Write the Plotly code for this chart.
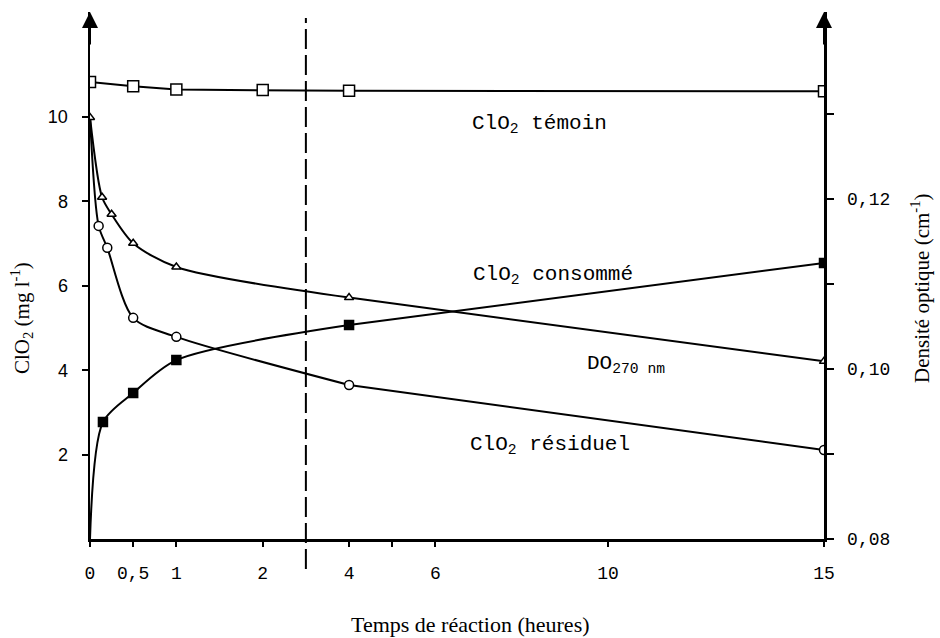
import plotly.graph_objects as go

# ---- data (hours, values) ----
temoin_t = [0, 0.5, 1, 2, 4, 15]
temoin = [10.83, 10.73, 10.65, 10.64, 10.62, 10.61]

residuel_t = [0, 0.1, 0.2, 0.5, 1, 4, 15]
residuel = [10.0, 7.42, 6.90, 5.24, 4.79, 3.65, 2.11]

consomme_t = [0, 0.15, 0.5, 1, 4, 15]
consomme = [0.0, 2.77, 3.46, 4.24, 5.07, 6.54]

do_t = [0, 0.14, 0.25, 0.5, 1, 4, 15]
do270 = [0.1296, 0.1202, 0.1182, 0.1148, 0.1120, 0.1084, 0.1009]

x_tick_hours = [0, 0.5, 1, 2, 4, 5, 6, 10, 15]
x_tick_text = ["0", "0,5", "1", "2", "4", "", "6", "10", "15"]
y_tick_vals = [2, 4, 6, 8, 10]
y2_tick_vals = [0.08, 0.09, 0.10, 0.11, 0.12, 0.13]
y2_tick_text = ["0,08", "", "0,10", "", "0,12", ""]

BREAK_HOUR = 2.5  # broken time axis: 2 units/h before the break, 1 unit/h after


def pos(h):
    return 2 * h if h <= BREAK_HOUR else h + 2


def P(ts):
    return [pos(t) for t in ts]


BLACK = "#000000"
fig = go.Figure()

line = dict(color=BLACK, width=2)


def add_series(ts, vs, symbol, size, fill, yaxis, split_idx=None, hide_first=False):
    xs = P(ts)
    if split_idx is None:
        fig.add_trace(go.Scatter(x=xs, y=vs, mode="lines", line=line, yaxis=yaxis,
                                 showlegend=False, hoverinfo="skip"))
    else:
        fig.add_trace(go.Scatter(x=xs[:split_idx + 1], y=vs[:split_idx + 1], mode="lines",
                                 line=dict(color=BLACK, width=2, shape="spline", smoothing=0.8),
                                 yaxis=yaxis, showlegend=False, hoverinfo="skip"))
        fig.add_trace(go.Scatter(x=xs[split_idx:], y=vs[split_idx:], mode="lines",
                                 line=line, yaxis=yaxis, showlegend=False, hoverinfo="skip"))
    sizes = [size] * len(xs)
    if hide_first:
        sizes[0] = 0
    fig.add_trace(go.Scatter(x=xs, y=vs, mode="markers", yaxis=yaxis, showlegend=False,
                             hoverinfo="skip",
                             marker=dict(symbol=symbol, size=sizes, color=fill, opacity=1,
                                         line=dict(color=BLACK, width=1.5))))


add_series(temoin_t, temoin, "square", 11, "#ffffff", "y")
add_series(residuel_t, residuel, "circle", 9, "#ffffff", "y", split_idx=5, hide_first=True)
add_series(consomme_t, consomme, "square", 9, BLACK, "y", split_idx=4, hide_first=True)
add_series(do_t, do270, "triangle-up", 8, "#ffffff", "y2", split_idx=5)

# plot geometry: left 90px, right 824px, top 12px, bottom 539px
T, B = 12, 539
H = B - T
y_top = H / 42.2
y2_top = 0.08 + H / 8500.0

mono = "Liberation Mono, Courier New, monospace"
serif = "Liberation Serif, Times New Roman, serif"
sans = "Liberation Sans, Arial, sans-serif"

fig.update_layout(
    width=940, height=638,
    margin=dict(l=90, r=116, t=T, b=638 - B),
    paper_bgcolor="white", plot_bgcolor="white",
    showlegend=False, hovermode=False,
    xaxis=dict(range=[0, 17], showgrid=False, zeroline=False, showline=True,
               linecolor=BLACK, linewidth=2.5, ticks="outside", ticklen=5, tickwidth=2,
               tickcolor=BLACK, tickvals=P(x_tick_hours), ticktext=x_tick_text,
               tickfont=dict(family=mono, size=18, color=BLACK), ticklabelstandoff=11,
               automargin=False, fixedrange=True),
    yaxis=dict(range=[0, y_top], showgrid=False, zeroline=False, showline=True,
               linecolor=BLACK, linewidth=2.5, ticks="outside", ticklen=6, tickwidth=2,
               tickcolor=BLACK, tickvals=y_tick_vals,
               tickfont=dict(family=sans, size=18, color=BLACK), ticklabelstandoff=10,
               automargin=False, fixedrange=True),
    yaxis2=dict(range=[0.08, y2_top], overlaying="y", side="right", anchor="x",
                showgrid=False, zeroline=False, showline=True, linecolor=BLACK,
                linewidth=2.5, ticks="outside", ticklen=7, tickwidth=2, tickcolor=BLACK,
                tickvals=y2_tick_vals, ticktext=y2_tick_text,
                tickfont=dict(family=mono, size=18, color=BLACK), ticklabelstandoff=10,
                automargin=False, fixedrange=True),
)

# broken-axis dashed marker at the break
fig.add_shape(type="line", xref="x", yref="paper", x0=5, x1=5,
              y0=-30 / H, y1=1 - 6 / H,
              line=dict(color=BLACK, width=2, dash="20px,6px"))

# axis arrowheads
for xv in (0, 17):
    fig.add_annotation(x=xv, y=1, xref="x", yref="paper", ax=0, ay=34, text="",
                       showarrow=True, arrowhead=2, arrowsize=1.6, arrowwidth=2,
                       arrowcolor=BLACK, standoff=0)

# series labels
lab_font = dict(family=mono, size=21, color=BLACK)
px_unit = 734 / 17.0
for txt, xp, yp in [
    ("ClO<sub>2</sub> témoin", 470, 124),
    ("ClO<sub>2</sub> consommé", 471, 275),
    ("DO<sub>270 nm</sub>", 585, 364),
    ("ClO<sub>2</sub> résiduel", 468, 445),
]:
    fig.add_annotation(x=(xp - 90) / px_unit, y=(B - yp) / 42.2, xref="x", yref="y",
                       text=txt, showarrow=False, xanchor="left", yanchor="middle",
                       font=lab_font)

# axis titles
fig.add_annotation(x=(471 - 90) / 734, y=(B - 624) / H, xref="paper", yref="paper",
                   text="Temps de réaction (heures)", showarrow=False,
                   xanchor="center", yanchor="middle",
                   font=dict(family=serif, size=22, color=BLACK))
fig.add_annotation(x=(22 - 90) / 734, y=(B - 318) / H, xref="paper", yref="paper",
                   text="ClO<sub>2</sub> (mg l<sup>-1</sup>)", showarrow=False, textangle=-90,
                   xanchor="center", yanchor="middle",
                   font=dict(family=serif, size=21, color=BLACK))
fig.add_annotation(x=(920 - 90) / 734, y=(B - 288) / H, xref="paper", yref="paper",
                   text="Densité optique (cm<sup>-1</sup>)", showarrow=False, textangle=-90,
                   xanchor="center", yanchor="middle",
                   font=dict(family=serif, size=21, color=BLACK))

fig.write_html("out.html", config={"displayModeBar": False, "staticPlot": True},
               post_script="document.body.style.margin='0px';")
